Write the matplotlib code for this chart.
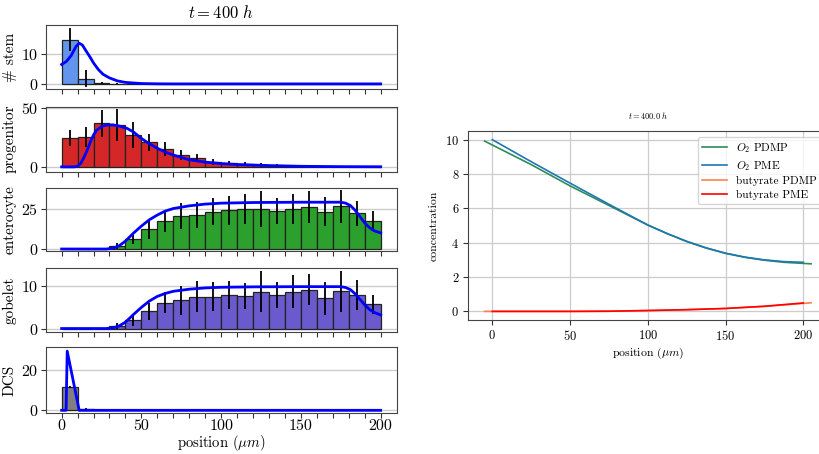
import matplotlib
matplotlib.use('Agg')
import matplotlib.pyplot as plt
import numpy as np

plt.rcParams['font.family'] = 'serif'
plt.rcParams['font.serif'] = ['cmr10', 'DejaVu Serif']
plt.rcParams['mathtext.fontset'] = 'cm'
plt.rcParams['axes.formatter.use_mathtext'] = True
plt.rcParams['axes.unicode_minus'] = False

# histogram bins (position in um)
bin_edges = np.arange(0, 201, 10)
bin_centers = bin_edges[:-1] + 5

# cell counts per bin and their std
stem = [14.8, 1.8, 0.3, 0.1, 0, 0, 0, 0, 0, 0, 0, 0, 0, 0, 0, 0, 0, 0, 0, 0]
stem_err = [3.8, 2.8, 0.4, 0.2, 0, 0, 0, 0, 0, 0, 0, 0, 0, 0, 0, 0, 0, 0, 0, 0]
progenitor = [24.2, 25.0, 36.8, 35.4, 27.0, 20.8, 15.0, 10.1, 7.4, 4.3, 3.2, 2.3, 1.7, 1.1, 0.8,
              0.3, 0.2, 0.1, 0.1, 0.1]
progenitor_err = [7.0, 8.5, 11.2, 13.4, 10.7, 7.0, 6.0, 4.5, 3.2, 2.4, 2.0, 1.8, 1.4, 1.0, 0.8,
                  0.5, 0.3, 0.2, 0.2, 0.2]
enterocyte = [0, 0, 0, 1.9, 6.1, 12.4, 17.6, 20.8, 21.4, 23.7, 24.4, 25.4, 25.4, 23.9, 25.6,
              26.7, 23.5, 26.9, 22.5, 17.6]
enterocyte_err = [0, 0, 0, 1.7, 2.8, 6.1, 7.1, 8.4, 8.2, 8.4, 9.2, 9.5, 11.6, 8.3, 9.5,
                  10.0, 9.2, 10.5, 8.0, 6.5]
gobelet = [0, 0, 0, 0.6, 2.0, 4.1, 6.1, 6.7, 7.5, 7.5, 8.0, 7.7, 8.7, 8.0, 8.7,
           9.2, 7.2, 8.8, 7.9, 5.7]
gobelet_err = [0, 0, 0, 0.7, 1.4, 2.0, 2.5, 3.4, 3.7, 3.4, 3.3, 3.0, 4.9, 3.1, 3.9,
               3.7, 3.9, 4.8, 3.5, 2.3]
dcs = [11.7, 0.7, 0.2, 0, 0, 0, 0, 0, 0, 0, 0, 0, 0, 0, 0, 0, 0, 0, 0, 0]
dcs_err = [0.4, 0.3, 0, 0, 0, 0, 0, 0, 0, 0, 0, 0, 0, 0, 0, 0, 0, 0, 0, 0]

# PME density curves
stem_x = [0, 3, 6, 9, 11, 13, 15, 18, 20, 23, 26, 30, 35, 40, 50, 60, 70, 200]
stem_y = [6.5, 7.5, 9.5, 12.5, 13.6, 13.0, 11.3, 8.8, 7.0, 4.8, 3.2, 2.0, 1.0, 0.5, 0.12, 0.03, 0.0, 0.0]
prog_x = [0, 8, 10, 12, 14, 16, 18, 20, 22, 25, 28, 32, 36, 41, 45, 50, 55, 60, 65, 70, 80, 90,
          100, 110, 130, 150, 175, 200]
prog_y = [0, 0, 0.5, 3, 8, 14, 21, 27, 31, 34, 35.3, 35.5, 34.5, 32.5, 29.5, 24, 19.5, 15.7, 12.5,
          10, 6, 4, 2.8, 2, 1.1, 0.5, 0.2, 0.1]
diff_x = [0, 28, 32, 36, 40, 45, 50, 55, 60, 65, 70, 80, 90, 100, 120, 150, 175, 178, 181, 184,
          187, 190, 193, 196, 200]
ent_y = [0, 0, 0.5, 2, 5, 10, 14.5, 18.5, 21.5, 24, 25.6, 27.3, 28.4, 29, 29.4, 29.6, 29.6, 29,
         27.5, 24.5, 20.5, 16.5, 13.5, 11.5, 10.2]
gob_y = [0, 0, 0.15, 0.6, 1.5, 3.3, 5, 6.5, 7.6, 8.3, 8.8, 9.3, 9.6, 9.75, 9.85, 9.9, 9.9, 9.7,
         9.2, 8.2, 6.9, 5.6, 4.5, 3.8, 3.2]
dcs_x = [0, 2.8, 3.5, 11, 200]
dcs_y = [0, 0, 29.4, 0, 0]

# concentration profiles
o2_pdmp_x = [-5, 25, 50, 75, 100, 112.5, 125, 137.5, 150, 162.5, 175, 187.5, 205]
o2_pdmp_y = [9.92, 8.55, 7.31, 6.17, 5.03, 4.53, 4.07, 3.69, 3.38, 3.15, 2.98, 2.86, 2.77]
o2_pme_x = [0, 25, 50, 75, 100, 112.5, 125, 137.5, 150, 162.5, 175, 187.5, 200]
o2_pme_y = [10.0, 8.72, 7.47, 6.24, 5.03, 4.53, 4.08, 3.70, 3.39, 3.16, 3.0, 2.90, 2.86]
but_pdmp_x = [-5, 50, 75, 100, 125, 150, 175, 205]
but_pdmp_y = [0, 0, 0.01, 0.05, 0.1, 0.17, 0.29, 0.5]
but_pme_x = [0, 50, 75, 100, 125, 150, 175, 200]
but_pme_y = [0, 0, 0.01, 0.05, 0.1, 0.17, 0.3, 0.49]

fig = plt.figure(figsize=(8.2, 4.54), dpi=100)

panels = [
    ('# stem', stem, stem_err, stem_x, stem_y, '#6495ed', [0, 10], (-1.7, 19.7)),
    ('progenitor', progenitor, progenitor_err, prog_x, prog_y, '#d62728', [0, 50], (-4, 50.8)),
    ('enterocyte', enterocyte, enterocyte_err, diff_x, ent_y, '#2ca02c', [0, 25], (-1.3, 38.9)),
    ('gobelet', gobelet, gobelet_err, diff_x, gob_y, '#6a5acd', [0, 10], (-0.9, 14.3)),
    ('DCS', dcs, dcs_err, dcs_x, dcs_y, '#808080', [0, 20], (-1.5, 31.2)),
]
bottoms = [0.804, 0.622, 0.447, 0.268, 0.0896]
heights = [0.141, 0.143, 0.140, 0.1416, 0.145]

axes = []
for i, (name, vals, errs, cx, cy, col, yt, yl) in enumerate(panels):
    ax = fig.add_axes([0.0557, bottoms[i], 0.428, heights[i]])
    ax.bar(bin_centers, vals, width=10, color=col, edgecolor='#222222', linewidth=0.9, zorder=2)
    ax.errorbar(bin_centers, vals, yerr=errs, fmt='none', ecolor='black', elinewidth=1.3, zorder=3)
    ax.plot(cx, cy, color='blue', lw=2, zorder=4)
    ax.set_xlim(-10, 210)
    ax.set_ylim(*yl)
    ax.set_yticks(yt)
    ax.set_xticks(bin_edges)
    ax.grid(axis='y', color='#cccccc', lw=1, zorder=0)
    ax.set_axisbelow(True)
    ax.set_ylabel(name, fontsize=11, labelpad=3)
    ax.tick_params(labelsize=11.5, color='#333333', pad=2)
    for s in ax.spines.values():
        s.set_color('#444444')
    if i < 4:
        ax.set_xticklabels([])
    else:
        ax.set_xticklabels([str(v) if v % 50 == 0 else '' for v in bin_edges])
        ax.tick_params(axis='x', pad=1)
        ax.set_xlabel(r'position ($\mu m$)', fontsize=10.5, labelpad=0)
    axes.append(ax)

axes[0].set_title(r'$t = 400\ h$', fontsize=12, pad=5)
fig.align_ylabels(axes)

ax2 = fig.add_axes([0.571, 0.2952, 0.438, 0.416])
ax2.plot(o2_pdmp_x, o2_pdmp_y, color='#2e8b57', lw=1.2, label=r'$O_2$ PDMP')
ax2.plot(o2_pme_x, o2_pme_y, color='#1f77b4', lw=1.2, label=r'$O_2$ PME')
ax2.plot(but_pdmp_x, but_pdmp_y, color='#ff7f50', lw=1.2, label='butyrate PDMP')
ax2.plot(but_pme_x, but_pme_y, color='red', lw=1.2, label='butyrate PME')
ax2.set_xlim(-15.5, 215.5)
ax2.set_ylim(-0.5, 10.5)
ax2.set_xticks([0, 50, 100, 150, 200])
ax2.set_yticks([0, 2, 4, 6, 8, 10])
ax2.grid(True, color='#cccccc', lw=0.9)
ax2.set_title(r'$t = 400.0\ h$', fontsize=6, pad=9)
ax2.set_xlabel(r'position ($\mu m$)', fontsize=8.5, labelpad=2)
ax2.set_ylabel('concentration', fontsize=8.5, labelpad=5)
ax2.tick_params(labelsize=9, color='#333333', pad=3)
for s in ax2.spines.values():
    s.set_color('#444444')
ax2.legend(loc='upper right', fontsize=8.2, labelspacing=0.3, handlelength=2.2,
           borderaxespad=0.5)

fig.savefig('out.png', dpi=100)
